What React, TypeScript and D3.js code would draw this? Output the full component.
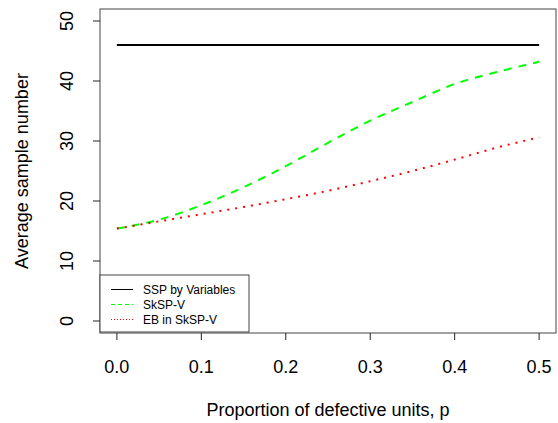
import React from 'react';
import { scaleLinear, line, curveMonotoneX } from 'd3';

// proportion of defective units
const pValues = [0, 0.05, 0.1, 0.15, 0.2, 0.25, 0.3, 0.35, 0.4, 0.45, 0.5];
const sspByVariables = [46, 46, 46, 46, 46, 46, 46, 46, 46, 46, 46];
const skspV = [15.4, 16.9, 19.3, 22.3, 25.8, 29.7, 33.4, 36.5, 39.5, 41.5, 43.2];
const ebInSkspV = [15.4, 16.6, 17.8, 19.0, 20.3, 21.7, 23.3, 25.0, 26.9, 28.9, 30.6];

const xTicks = [0, 0.1, 0.2, 0.3, 0.4, 0.5];
const yTicks = [0, 10, 20, 30, 40, 50];

const legendItems = [
  { label: 'SSP by Variables', color: '#000000', dash: undefined },
  { label: 'SkSP-V', color: '#00ff00', dash: '4,3' },
  { label: 'EB in SkSP-V', color: '#ff0000', dash: '1,2' },
];

const W = 558;
const H = 423;
const left = 100;
const right = 556;
const top = 9;
const bottom = 333;

export default function App() {
  const x = scaleLinear().domain([-0.02, 0.52]).range([left, right]);
  const y = scaleLinear().domain([-2, 52]).range([bottom, top]);

  const makeLine = (vals: number[]) =>
    line<number>()
      .x((d, i) => x(pValues[i]))
      .y((d) => y(d))
      .curve(curveMonotoneX)(vals) || '';

  const font = '"Liberation Sans", Arial, sans-serif';

  return (
    <svg
      width={W}
      height={H}
      style={{ position: 'absolute', left: 0, top: 0, background: '#fff' }}
      fontFamily={font}
    >
      <rect x={0} y={0} width={W} height={H} fill="#fff" />

      {/* series */}
      <path d={makeLine(sspByVariables)} fill="none" stroke="#000" strokeWidth={2} />
      <path d={makeLine(skspV)} fill="none" stroke="#00ff00" strokeWidth={2} strokeDasharray="8,7" />
      <path d={makeLine(ebInSkspV)} fill="none" stroke="#ff0000" strokeWidth={2} strokeDasharray="2,6" />

      {/* box */}
      <rect x={left} y={top} width={right - left} height={bottom - top} fill="none" stroke="#444" strokeWidth={1} />

      {/* x axis */}
      {xTicks.map((t) => (
        <g key={'x' + t}>
          <line x1={x(t)} x2={x(t)} y1={bottom} y2={bottom + 7} stroke="#222" />
          <text x={x(t)} y={373} textAnchor="middle" fontSize={18} fill="#000">
            {t.toFixed(1)}
          </text>
        </g>
      ))}
      <text x={(left + right) / 2} y={416} textAnchor="middle" fontSize={18} fill="#000">
        Proportion of defective units, p
      </text>

      {/* y axis */}
      {yTicks.map((t) => (
        <g key={'y' + t}>
          <line x1={left - 7} x2={left} y1={y(t)} y2={y(t)} stroke="#222" />
          <text
            transform={`translate(73,${y(t)}) rotate(-90)`}
            textAnchor="middle"
            fontSize={18}
            fill="#000"
          >
            {t}
          </text>
        </g>
      ))}
      <text
        transform={`translate(28,${(top + bottom) / 2}) rotate(-90)`}
        textAnchor="middle"
        fontSize={18}
        fill="#000"
      >
        Average sample number
      </text>

      {/* legend */}
      <rect x={100} y={275} width={149} height={57} fill="#fff" stroke="#444" strokeWidth={1} />
      {legendItems.map((item, i) => {
        const ly = 289.5 + i * 15;
        return (
          <g key={item.label}>
            <line
              x1={111}
              x2={133}
              y1={ly}
              y2={ly}
              stroke={item.color}
              strokeWidth={1}
              strokeDasharray={item.dash}
            />
            <text x={143} y={ly} dominantBaseline="central" fontSize={12} fill="#000">
              {item.label}
            </text>
          </g>
        );
      })}
    </svg>
  );
}
